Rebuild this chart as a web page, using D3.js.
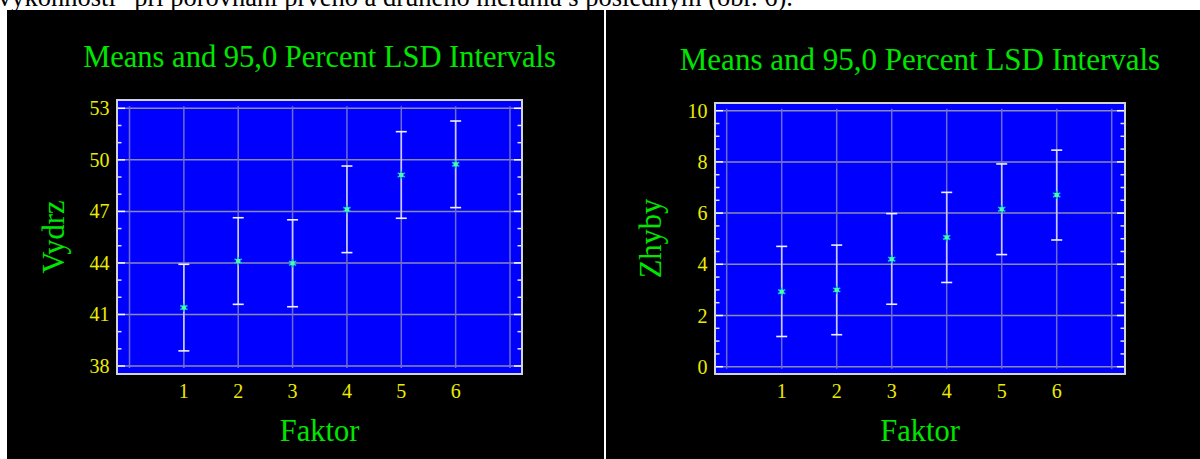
<!DOCTYPE html>
<html>
<head>
<meta charset="utf-8">
<script src="https://cdn.jsdelivr.net/npm/d3@7"></script>
<style>
  html, body { margin: 0; padding: 0; background: #ffffff; }
  svg { display: block; }
</style>
</head>
<body>
<svg id="chart" width="1200" height="459"></svg>
<script>
// Factor levels shared by both panels
const factorLevels = [1, 2, 3, 4, 5, 6];
const xTickLabels = ["1", "2", "3", "4", "5", "6"];

// Vydrz: group means with 95,0 % LSD interval limits
const vydrzMeans = [41.40, 44.11, 43.98, 47.12, 49.12, 49.74];
const vydrzLower = [38.88, 41.59, 41.45, 44.60, 46.60, 47.22];
const vydrzUpper = [43.92, 46.63, 46.51, 49.64, 51.64, 52.26];
const vydrzTicks = [38, 41, 44, 47, 50, 53];

// Zhyby: group means with 95,0 % LSD interval limits
const zhybyMeans = [2.93, 3.00, 4.20, 5.05, 6.15, 6.71];
const zhybyLower = [1.18, 1.25, 2.44, 3.29, 4.38, 4.95];
const zhybyUpper = [4.70, 4.75, 5.98, 6.81, 7.92, 8.46];
const zhybyTicks = [0, 2, 4, 6, 8, 10];

const titleText = "Means and 95,0 Percent LSD Intervals";
const xAxisTitle = "Faktor";
const captionText = "výkonnosti\u201C pri porovnaní prvého a druhého merania s posledným (obr. 6).";

const SERIF = "'Liberation Serif', 'Times New Roman', Times, serif";
const GREEN = "#00e600";
const YELLOW = "#ecec00";

const svg = d3.select("#chart");

// running text line above the figures
svg.append("text")
  .attr("x", -2).attr("y", 5.5)
  .style("font-family", SERIF)
  .style("font-size", "26.5px")
  .attr("fill", "#000")
  .text(captionText);

function drawPanel(opt) {
  const g = svg.append("g");

  // black panel background
  g.append("rect")
    .attr("x", opt.panel[0]).attr("y", opt.panel[1])
    .attr("width", opt.panel[2]).attr("height", opt.panel[3])
    .attr("fill", "#000");

  const [px0, py0, px1, py1] = opt.plot;
  const x = d3.scaleLinear().domain([0, 7]).range(opt.xRange);
  const y = d3.scaleLinear().domain(opt.yDomain).range(opt.yRange);

  // blue plotting area
  g.append("rect")
    .attr("x", px0).attr("y", py0)
    .attr("width", px1 - px0).attr("height", py1 - py0)
    .attr("fill", "#0000ff");

  // horizontal grid at major y ticks
  g.append("g").selectAll("line").data(opt.yTicks).join("line")
    .attr("x1", px0).attr("x2", px1)
    .attr("y1", d => y(d)).attr("y2", d => y(d))
    .attr("stroke", "#8a8ab8").attr("stroke-width", 1.5);

  // vertical grid at each integer x position
  const yLo = y(opt.yDomain[0]) + 2, yHi = y(opt.yDomain[1]) - 2;
  g.append("g").selectAll("line").data(d3.range(0, 8)).join("line")
    .attr("x1", d => x(d)).attr("x2", d => x(d))
    .attr("y1", yHi).attr("y2", yLo)
    .attr("stroke", "#6c6cd4").attr("stroke-width", 1.5);

  // inner ticks on the left and right edges (major + minor)
  const minorTicks = d3.range(opt.yDomain[0], opt.yDomain[1] + 1e-9, opt.minorStep)
    .filter(v => !opt.yTicks.some(t => Math.abs(t - v) < 1e-9));
  [[px0 + 1, 1], [px1 - 1, -1]].forEach(([edge, dir]) => {
    g.append("g").selectAll("line").data(opt.yTicks).join("line")
      .attr("x1", edge).attr("x2", edge + dir * 7)
      .attr("y1", d => y(d)).attr("y2", d => y(d))
      .attr("stroke", "#ffffff").attr("stroke-width", 1.5);
    g.append("g").selectAll("line").data(minorTicks).join("line")
      .attr("x1", edge).attr("x2", edge + dir * 3.5)
      .attr("y1", d => y(d)).attr("y2", d => y(d))
      .attr("stroke", "#e0e0ff").attr("stroke-width", 1.5);
  });

  // plot frame
  g.append("rect")
    .attr("x", px0).attr("y", py0)
    .attr("width", px1 - px0).attr("height", py1 - py0)
    .attr("fill", "none").attr("stroke", "#d4d4d4").attr("stroke-width", 2);

  // LSD interval bars
  const rows = factorLevels.map((f, i) => ({
    f, mean: opt.means[i], lo: opt.lower[i], hi: opt.upper[i]
  }));
  const bars = g.append("g");
  bars.selectAll("line.stem").data(rows).join("line")
    .attr("class", "stem")
    .attr("x1", d => x(d.f)).attr("x2", d => x(d.f))
    .attr("y1", d => y(d.lo)).attr("y2", d => y(d.hi))
    .attr("stroke", "#c8c8ff").attr("stroke-width", 1.6);
  ["lo", "hi"].forEach(k => {
    bars.selectAll("line.cap-" + k).data(rows).join("line")
      .attr("class", "cap-" + k)
      .attr("x1", d => x(d.f) - 5.5).attr("x2", d => x(d.f) + 5.5)
      .attr("y1", d => y(d[k])).attr("y2", d => y(d[k]))
      .attr("stroke", "#f0f0ff").attr("stroke-width", 1.6);
  });

  // mean markers (asterisks)
  const star = d3.symbol().type(d3.symbolAsterisk).size(48);
  bars.selectAll("path.mean").data(rows).join("path")
    .attr("class", "mean")
    .attr("transform", d => `translate(${x(d.f)},${y(d.mean)})`)
    .attr("d", star)
    .attr("fill", "none")
    .attr("stroke", "#00c8f0").attr("stroke-width", 1.5);
  bars.selectAll("rect.core").data(rows).join("rect")
    .attr("class", "core")
    .attr("x", d => x(d.f) - 2).attr("y", d => y(d.mean) - 2)
    .attr("width", 4).attr("height", 4)
    .attr("fill", "#50ff90");

  // y tick labels
  g.append("g").selectAll("text").data(opt.yTicks).join("text")
    .attr("x", px0 - 7.5).attr("y", d => y(d))
    .attr("dy", "0.35em")
    .attr("text-anchor", "end")
    .style("font-family", SERIF).style("font-size", "20px")
    .attr("fill", YELLOW)
    .text(d => d);

  // x tick labels
  g.append("g").selectAll("text").data(factorLevels).join("text")
    .attr("x", d => x(d)).attr("y", 398)
    .attr("text-anchor", "middle")
    .style("font-family", SERIF).style("font-size", "20px")
    .attr("fill", YELLOW)
    .text((d, i) => xTickLabels[i]);

  const cx = (px0 + px1) / 2;
  // chart title
  g.append("text")
    .attr("x", cx).attr("y", opt.titleY)
    .attr("text-anchor", "middle")
    .style("font-family", SERIF).style("font-size", opt.titleSize)
    .attr("fill", GREEN)
    .text(titleText);

  // x axis title
  g.append("text")
    .attr("x", cx).attr("y", 441)
    .attr("text-anchor", "middle")
    .style("font-family", SERIF).style("font-size", "30.5px")
    .attr("fill", GREEN)
    .text(xAxisTitle);

  // y axis title
  g.append("text")
    .attr("transform", `translate(${opt.yTitleX},${(py0 + py1) / 2}) rotate(-90)`)
    .attr("text-anchor", "middle")
    .style("font-family", SERIF).style("font-size", "30.5px")
    .attr("fill", GREEN)
    .text(opt.yTitle);
}

drawPanel({
  panel: [7, 10, 597, 449],
  plot: [117, 100, 522, 374],
  xRange: [129.5, 510],
  yDomain: [38, 53],
  yRange: [366, 108.3],
  yTicks: vydrzTicks,
  minorStep: 1,
  means: vydrzMeans, lower: vydrzLower, upper: vydrzUpper,
  titleY: 67,
  titleSize: "30.5px",
  yTitle: "Vydrz",
  yTitleX: 64
});

drawPanel({
  panel: [606, 10, 594, 449],
  plot: [715, 103, 1125, 374],
  xRange: [726.7, 1111.7],
  yDomain: [0, 10],
  yRange: [366.7, 110.7],
  yTicks: zhybyTicks,
  minorStep: 0.5,
  means: zhybyMeans, lower: zhybyLower, upper: zhybyUpper,
  titleY: 70,
  titleSize: "31px",
  yTitle: "Zhyby",
  yTitleX: 661
});
</script>
</body>
</html>
